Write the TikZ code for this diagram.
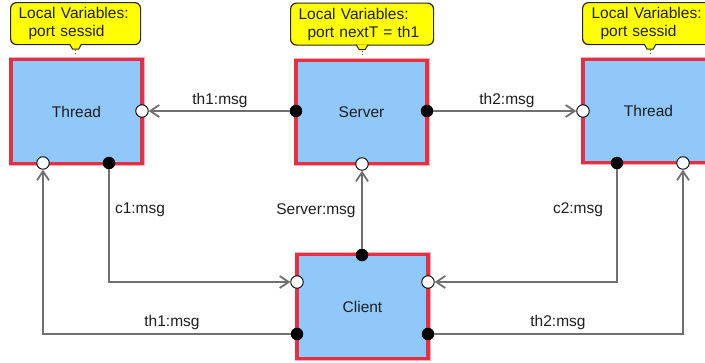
\documentclass[tikz,border=0pt]{standalone}
\usepackage{fontspec}
\setmainfont{Liberation Sans}
\usetikzlibrary{arrows.meta}
\definecolor{boxblue}{RGB}{144,200,250}
\definecolor{boxred}{RGB}{228,48,66}
\definecolor{boxglow}{RGB}{246,170,180}
\definecolor{wire}{RGB}{112,112,112}
\definecolor{noteyellow}{RGB}{255,255,0}
\definecolor{ink}{RGB}{30,30,30}

\begin{document}
\begin{tikzpicture}[x=1pt,y=-1pt,
  every node/.style={font=\fontsize{15.5}{18}\selectfont, text=ink},
  unit/.style={draw=boxred, line width=3.2pt, fill=boxblue,
    preaction={draw=boxglow, line width=5pt},
    minimum width=131pt, minimum height=103.5pt, inner sep=0pt},
  inport/.style={circle, draw=black, line width=0.9pt, fill=white,
    minimum size=12.5pt, inner sep=0pt},
  outport/.style={circle, fill=black, minimum size=12.5pt, inner sep=0pt},
  conn/.style={draw=wire, line width=2.2pt,
    -{Straight Barb[length=9pt,width=12pt,line width=1.8pt]}},
  note/.style={draw=black!85, line width=1.2pt, fill=noteyellow,
    rounded corners=6pt, align=left, anchor=north west,
    inner xsep=8pt, inner ysep=0pt, minimum height=42pt},
  lbl/.style={inner sep=0pt}]

\useasboundingbox (0,0) rectangle (705,362);
\clip (0,0) rectangle (705,362);

% processes
\node[unit] (thL) at (76.5,111.5) {Thread};
\node[unit] (srv) at (361.5,112) {Server};
\node[unit] (thR) at (648.5,111) {Thread};
\node[unit] (cli) at (362.5,306.5) {Client};

% ports: white = receiving, black = sending
\node[inport]  (thLe)  at (142,111) {};
\node[inport]  (thLs1) at (43,163) {};
\node[outport] (thLs2) at (109,163) {};
\node[outport] (sW)    at (296,111) {};
\node[outport] (sE)    at (427,111) {};
\node[inport]  (sS)    at (362,164) {};
\node[inport]  (thRw)  at (583,111) {};
\node[outport] (thRs1) at (617,163) {};
\node[inport]  (thRs2) at (683,163) {};
\node[outport] (cN)    at (362,255) {};
\node[inport]  (cW1)   at (297,282) {};
\node[outport] (cW2)   at (297,334) {};
\node[inport]  (cE1)   at (428,282) {};
\node[outport] (cE2)   at (428,334) {};

% channels
\draw[conn] (sW) -- (thLe);
\draw[conn] (sE) -- (thRw);
\draw[conn] (thLs2) |- (cW1);
\draw[conn] (cW2) -| (thLs1);
\draw[conn] (cN) -- (sS);
\draw[conn] (thRs1) |- (cE1);
\draw[conn] (cE2) -| (thRs2);

% channel labels
\node[lbl] (m1) at (220,100) {th1:msg};
\node[lbl] (m2) at (507,100) {th2:msg};
\node[lbl] (m3) at (140,210) {c1:msg};
\node[lbl] (m4) at (316,211) {Server:msg};
\node[lbl] (m5) at (578,210) {c2:msg};
\node[lbl] (m6) at (172,322) {th1:msg};
\node[lbl] (m7) at (558,322) {th2:msg};

% local variable notes
\node[note, text width=114pt] (nL) at (10,2)
  {Local Variables:\\\hspace*{10pt}port sessid};
\node[note, text width=127pt] (nS) at (290,2.5)
  {Local Variables:\\\hspace*{9pt}port nextT = th1};
\node[note, text width=117pt, inner xsep=9pt] (nR) at (582,2)
  {Local Variables:\\\hspace*{9pt}port sessid};

\foreach \n in {nL,nS,nR}{
  \draw[draw=black!85, line width=1pt, fill=noteyellow]
    (\n.south) ++(-6,-1.2) -- ++(3,5.2) -- ++(6,0) -- ++(3,-5.2);
  \draw[black!70, line width=1pt, dotted] (\n.south) ++(0,5) -- ++(0,5);
}
\end{tikzpicture}
\end{document}
